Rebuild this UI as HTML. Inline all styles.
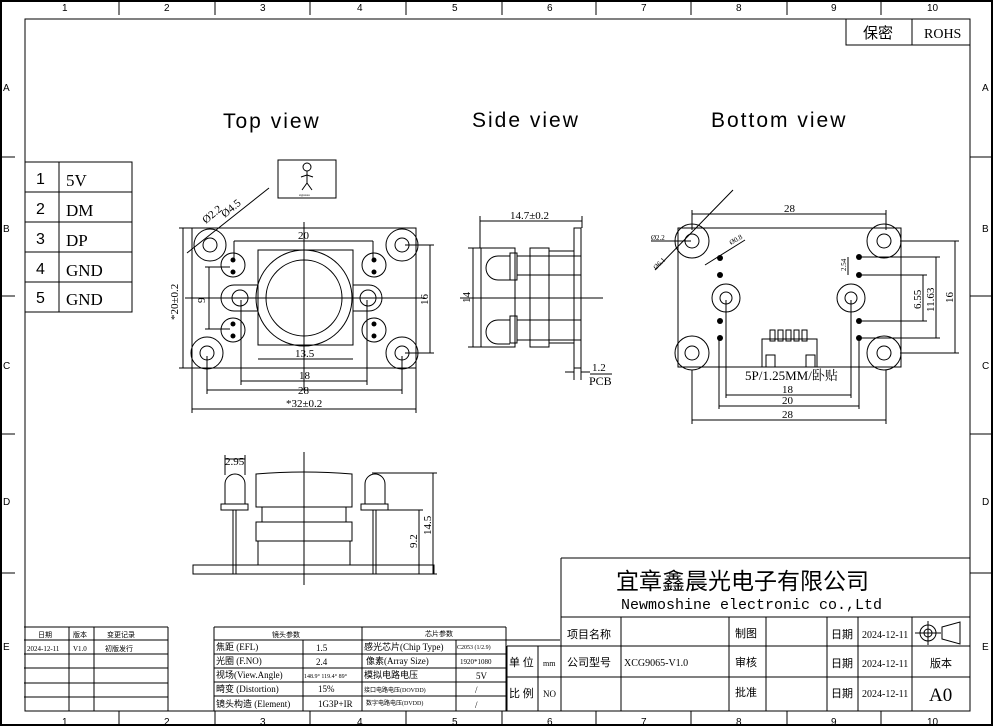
<!DOCTYPE html>
<html><head><meta charset="utf-8"><style>
html,body{margin:0;padding:0;background:#fff;}
svg{display:block;}
text{font-family:"Liberation Serif","Noto Serif CJK SC","Noto Sans CJK SC",serif;fill:#000;}
.s text, text.s{font-family:"Liberation Sans","Noto Sans CJK SC",sans-serif;}
.cj text, text.cj{font-family:"Liberation Serif","Noto Sans CJK SC",sans-serif;}
</style></head><body>
<svg width="997" height="727" viewBox="0 0 997 727" xmlns="http://www.w3.org/2000/svg">
<g fill="none" stroke="#000" stroke-width="1">
<rect x="1" y="1" width="991" height="724" stroke-width="2"/>
<rect x="25" y="19" width="945" height="692"/>
<path d="M119 1v14M215 1v14M310 1v14M406 1v14M502 1v14M596 1v14M691 1v14M787 1v14M881 1v14M119 711v14M215 711v14M310 711v14M406 711v14M502 711v14M596 711v14M691 711v14M787 711v14M881 711v14M1 157h14M1 296h14M1 434h14M1 573h14M970 157h22M970 296h22M970 434h22M970 573h22"/>
<rect x="846" y="19" width="124" height="26"/><path d="M912 19v26"/>
<rect x="25" y="162" width="107" height="150"/><path d="M59 162v150M25 192h107M25 222h107M25 252h107M25 282h107"/>
<rect x="278" y="160" width="58" height="38"/>
<rect x="192" y="228" width="224" height="140"/>
<circle cx="210" cy="245" r="16"/><circle cx="210" cy="245" r="7"/>
<circle cx="402" cy="245" r="16"/><circle cx="402" cy="245" r="7"/>
<circle cx="207" cy="353" r="16"/><circle cx="207" cy="353" r="7"/>
<circle cx="402" cy="353" r="16"/><circle cx="402" cy="353" r="7"/>
<circle cx="233" cy="265" r="12"/><circle cx="374" cy="265" r="12"/><circle cx="233" cy="330" r="12"/><circle cx="374" cy="330" r="12"/>
<rect x="258" y="250" width="95" height="95"/>
<path d="M258 285h-24a13 13 0 0 0 0 26h24M353 285h16a13 13 0 0 1 0 26h-16"/>
<circle cx="240" cy="298" r="8"/><circle cx="368" cy="298" r="8"/>
<circle cx="304" cy="298" r="48"/><circle cx="304" cy="298" r="38"/>
<path d="M304 222v168M185 298h240"/>
<path d="M234 241h139M234 241v20M373 241v20M258 359h95M241 381h126M241 300v85M367 300v85M207 390h195M207 356v38M402 356v38M192 409h224M192 368v45M416 368v45M183 228v140M179 228h13M179 368h13M209 267v62M205 267h25M205 329h25M430 245v108M405 245h29M405 353h29M187 253l82-65"/>
<path d="M480 221h102M480 216v32M582 216v12M473 248v99M468 248h13M468 347h13M460 298h143"/>
<rect x="574" y="228" width="7" height="140"/>
<rect x="481" y="248" width="34" height="99"/>
<rect x="530" y="248" width="19" height="99"/>
<rect x="549" y="251" width="25" height="92"/>
<rect x="510" y="253" width="7" height="27"/><rect x="510" y="316" width="7" height="27"/>
<path d="M510 256h-12a12 12 0 0 0 0 24h12M510 320h-12a12 12 0 0 0 0 24h12M517 256h64M517 275h64M517 320h64M517 340h64M574 368v12M581 368v12M565 372h9M581 372h9M590 374h22"/>
<rect x="678" y="228" width="223" height="139"/>
<circle cx="692" cy="241" r="17"/><circle cx="692" cy="241" r="7"/>
<circle cx="884" cy="241" r="17"/><circle cx="884" cy="241" r="7"/>
<circle cx="692" cy="353" r="17"/><circle cx="692" cy="353" r="7"/>
<circle cx="884" cy="353" r="17"/><circle cx="884" cy="353" r="7"/>
<circle cx="726" cy="298" r="14"/><circle cx="726" cy="298" r="6"/>
<circle cx="851" cy="298" r="14"/><circle cx="851" cy="298" r="6"/>
<rect x="762" y="339" width="55" height="28"/>
<rect x="766" y="355" width="9" height="12"/><rect x="806" y="355" width="9" height="12"/>
<rect x="770" y="330" width="5" height="11"/><rect x="778" y="330" width="5" height="11"/><rect x="786" y="330" width="5" height="11"/><rect x="794" y="330" width="5" height="11"/><rect x="802" y="330" width="5" height="11"/>
<path d="M692 214h194M692 210v20M886 210v20M726 395h125M726 300v98M851 300v98M719 406h140M719 340v69M859 340v69M692 420h194M692 370v54M886 370v54M955 241v112M900 241h59M900 353h59M936 257v81M862 257h78M862 338h78M923 275v46M862 275h65M862 321h65M848 257v18M651 241h40M655 270l78-80M705 265l40-25"/>
<rect x="193" y="565" width="241" height="9"/>
<path d="M256 507v-33q48-4 96 0v33zM262 507v15M346 507v15"/>
<rect x="256" y="522" width="96" height="19"/><rect x="258" y="541" width="92" height="24"/>
<rect x="221" y="504" width="27" height="6"/><rect x="361" y="504" width="27" height="6"/>
<path d="M225 504v-20a10 10 0 0 1 20 0v20M365 504v-20a10 10 0 0 1 20 0v20M233 510v64M236 510v64M373 510v64M376 510v64M304 452v133M225 459h20M225 455v20M245 455v20M372 473h65M433 473v101M388 510h35M419 510v64M376 574h61"/>
<path d="M561 558h409M561 558v153M561 617h409M507 646h463M507 677h463M621 617v94M729 617v94M766 617v94M827 617v94M858 617v94M912 617v94M507 646v65M538 646v65M912 646h58"/>
<circle cx="928" cy="633" r="8"/><circle cx="928" cy="633" r="4"/><path d="M915 633h26M928 621v24M942 627l18-5v22l-18-5z"/>
<path d="M24 627h144M24 640h144M24 654h144M24 668h144M24 683h144M24 697h144M69 627v84M94 627v84M168 627v84"/>
<path d="M214 627h292M214 627v84M362 627v84M506 627v84M214 640h292M214 654h292M214 668h292M214 682h292M214 696h292M303 640v71M456 640v71M506 640h54"/>
</g>
<g fill="#000">
<circle cx="233" cy="260" r="2.5"/><circle cx="233" cy="272" r="2.5"/><circle cx="374" cy="260" r="2.5"/><circle cx="374" cy="272" r="2.5"/>
<circle cx="233" cy="324" r="2.5"/><circle cx="233" cy="336" r="2.5"/><circle cx="374" cy="324" r="2.5"/><circle cx="374" cy="336" r="2.5"/>
<circle cx="720" cy="258" r="3"/><circle cx="720" cy="275" r="3"/><circle cx="720" cy="321" r="3"/><circle cx="720" cy="338" r="3"/>
<circle cx="859" cy="257" r="3"/><circle cx="859" cy="275" r="3"/><circle cx="859" cy="321" r="3"/><circle cx="859" cy="338" r="3"/>
</g>
<g fill="none" stroke="#000"><circle cx="307" cy="167" r="4"/><path d="M307 171v12l-5 7M307 183l5 7M307 175l-6 2M307 175l6 2"/></g>
<text x="299" y="196" font-size="3" fill="#e44">signature</text>
<g class="s" font-size="10">
<text x="62" y="11">1</text><text x="164" y="11">2</text><text x="260" y="11">3</text><text x="357" y="11">4</text><text x="452" y="11">5</text><text x="547" y="11">6</text><text x="641" y="11">7</text><text x="736" y="11">8</text><text x="831" y="11">9</text><text x="927" y="11">10</text>
<text x="62" y="725">1</text><text x="164" y="725">2</text><text x="260" y="725">3</text><text x="357" y="725">4</text><text x="452" y="725">5</text><text x="547" y="725">6</text><text x="641" y="725">7</text><text x="736" y="725">8</text><text x="831" y="725">9</text><text x="927" y="725">10</text>
<text x="3" y="91">A</text><text x="3" y="232">B</text><text x="3" y="369">C</text><text x="3" y="505">D</text><text x="3" y="650">E</text>
<text x="982" y="91">A</text><text x="982" y="232">B</text><text x="982" y="369">C</text><text x="982" y="505">D</text><text x="982" y="650">E</text>
</g>
<text x="863" y="38" font-size="15" class="cj">保密</text><text x="924" y="38" font-size="14">ROHS</text>
<g class="s" font-size="21" letter-spacing="2">
<text x="223" y="128">Top view</text><text x="472" y="127">Side view</text><text x="711" y="127">Bottom view</text>
</g>
<g class="s" font-size="16"><text x="36" y="184">1</text><text x="36" y="214">2</text><text x="36" y="244">3</text><text x="36" y="274">4</text><text x="36" y="303">5</text></g>
<g font-size="17"><text x="66" y="186">5V</text><text x="66" y="216">DM</text><text x="66" y="246">DP</text><text x="66" y="276">GND</text><text x="66" y="305">GND</text></g>
<g font-size="11">
<text x="298" y="239">20</text><text x="295" y="357">13.5</text><text x="299" y="379">18</text><text x="298" y="394">28</text><text x="286" y="407">*32±0.2</text>
<text x="178" y="320" transform="rotate(-90 178 320)">*20±0.2</text>
<text x="205" y="303" transform="rotate(-90 205 303)">9</text>
<text x="428" y="305" transform="rotate(-90 428 305)">16</text>
<text x="206" y="224" transform="rotate(-40 206 224)">Ø2.2</text><text x="225" y="218" transform="rotate(-40 225 218)">Ø4.5</text>
<text x="510" y="219">14.7±0.2</text>
<text x="470" y="303" transform="rotate(-90 470 303)">14</text>
<text x="592" y="371">1.2</text><text x="589" y="385" font-size="12">PCB</text>
<text x="784" y="212">28</text>
<text x="745" y="380" font-size="13">5P/1.25MM/卧贴</text>
<text x="782" y="393">18</text><text x="782" y="404">20</text><text x="782" y="418">28</text>
<text x="953" y="303" transform="rotate(-90 953 303)">16</text>
<text x="934" y="312" transform="rotate(-90 934 312)">11.63</text>
<text x="921" y="309" transform="rotate(-90 921 309)">6.55</text>
<text x="846" y="271" font-size="7" transform="rotate(-90 846 271)">2.54</text>
<text x="651" y="240" font-size="7">Ø2.2</text>
<text x="656" y="270" font-size="7" transform="rotate(-45 656 270)">Ø6.1</text>
<text x="731" y="245" font-size="7" transform="rotate(-30 731 245)">Ø0.8</text>
<text x="225" y="465">2.95</text>
<text x="431" y="535" transform="rotate(-90 431 535)">14.5</text>
<text x="417" y="548" transform="rotate(-90 417 548)">9.2</text>
</g>
<text x="616" y="589" font-size="23" class="cj">宜章鑫晨光电子有限公司</text>
<text x="621" y="609" font-size="15" style="font-family:'Liberation Mono',monospace">Newmoshine  electronic co.,Ltd</text>
<g font-size="11" class="cj">
<text x="567" y="638">项目名称</text><text x="735" y="637">制图</text><text x="831" y="638">日期</text>
<text x="567" y="666">公司型号</text><text x="735" y="666">审核</text><text x="831" y="667">日期</text><text x="930" y="667">版本</text>
<text x="735" y="696">批准</text><text x="831" y="697">日期</text>
<text x="509" y="666">单 位</text><text x="509" y="697">比 例</text>
</g>
<g font-size="10"><text x="862" y="638">2024-12-11</text><text x="862" y="667">2024-12-11</text><text x="862" y="697">2024-12-11</text><text x="624" y="666">XCG9065-V1.0</text><text x="543" y="666" font-size="8">mm</text><text x="543" y="697" font-size="9">NO</text></g>
<text x="929" y="701" font-size="19">A0</text>
<g font-size="7" class="cj">
<text x="38" y="637">日期</text><text x="73" y="637">版本</text><text x="107" y="637">变更记录</text>
<text x="27" y="651" fill="#666">2024-12-11</text><text x="73" y="651">V1.0</text><text x="105" y="651">初版发行</text>
<text x="272" y="637">镜头参数</text><text x="425" y="636">芯片参数</text>
</g>
<g font-size="9" class="cj">
<text x="216" y="650">焦距 (EFL)</text><text x="316" y="651">1.5</text><text x="364" y="650">感光芯片(Chip Type)</text><text x="457" y="649" font-size="6">C2053 (1/2.9)</text>
<text x="216" y="664">光圈 (F.NO)</text><text x="316" y="665">2.4</text><text x="366" y="664">像素(Array Size)</text><text x="460" y="664" font-size="7">1920*1080</text>
<text x="216" y="678">视场(View.Angle)</text><text x="304" y="678" font-size="6">148.9° 119.4° 89°</text><text x="364" y="678">模拟电路电压</text><text x="476" y="679">5V</text>
<text x="216" y="692">畸变 (Distortion)</text><text x="318" y="692">15%</text><text x="364" y="692" font-size="6">接口电路电压(DOVDD)</text><text x="475" y="693">/</text>
<text x="216" y="707">镜头构造 (Element)</text><text x="318" y="707">1G3P+IR</text><text x="366" y="705" font-size="6">数字电路电压(DVDD)</text><text x="475" y="708">/</text>
</g>
</svg>
</body></html>
